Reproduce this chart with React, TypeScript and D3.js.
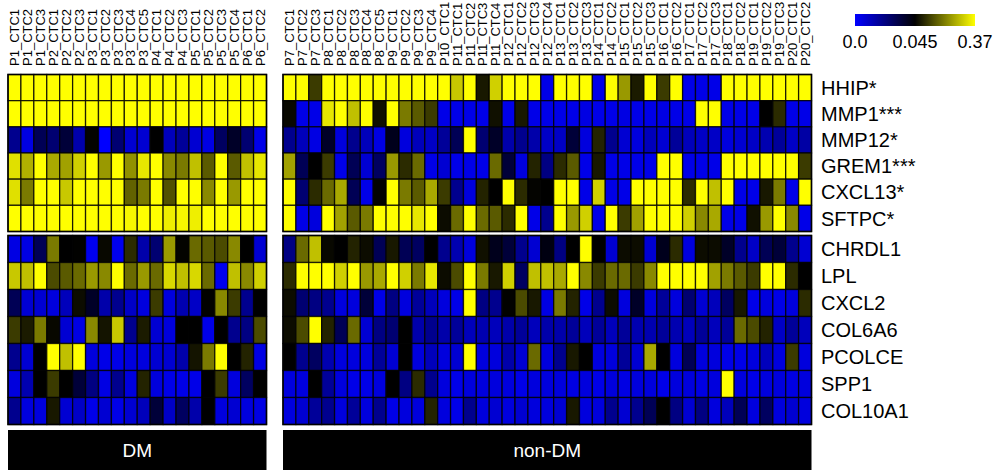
import * as d3 from 'd3'

const dmSamples = ['P1_CTC1','P1_CTC2','P1_CTC3','P2_CTC1','P2_CTC2','P2_CTC3','P3_CTC1','P3_CTC2','P3_CTC3','P3_CTC4','P3_CTC5','P4_CTC1','P4_CTC2','P4_CTC3','P5_CTC1','P5_CTC2','P5_CTC3','P5_CTC4','P6_CTC1','P6_CTC2']
const nonDmSamples = ['P7_CTC1','P7_CTC2','P7_CTC3','P8_CTC1','P8_CTC2','P8_CTC3','P8_CTC4','P8_CTC5','P9_CTC1','P9_CTC2','P9_CTC3','P9_CTC4','P10_CTC1','P11_CTC1','P11_CTC2','P11_CTC3','P11_CTC4','P12_CTC1','P12_CTC2','P12_CTC3','P12_CTC4','P13_CTC1','P13_CTC2','P13_CTC3','P14_CTC1','P14_CTC2','P15_CTC1','P15_CTC2','P15_CTC3','P16_CTC1','P16_CTC2','P17_CTC1','P17_CTC2','P17_CTC3','P18_CTC1','P18_CTC2','P19_CTC1','P19_CTC2','P19_CTC3','P20_CTC1','P20_CTC2']
const topGenes = ['HHIP*','MMP1***','MMP12*','GREM1***','CXCL13*','SFTPC*']
const bottomGenes = ['CHRDL1','LPL','CXCL2','COL6A6','PCOLCE','SPP1','COL10A1']
const groupNames = ['DM','non-DM']
const legendTicks = [0, 0.045, 0.37]
const legendLabels = ['0.0','0.045','0.37']

// rows follow topGenes then bottomGenes
const dmValues = [
  [0.37,0.37,0.37,0.37,0.37,0.37,0.37,0.37,0.37,0.37,0.37,0.37,0.37,0.37,0.37,0.37,0.37,0.37,0.37,0.37],
  [0.37,0.37,0.37,0.37,0.37,0.37,0.37,0.37,0.37,0.37,0.37,0.37,0.37,0.37,0.37,0.37,0.37,0.37,0.37,0.37],
  [0.02,0.005,0.03,0.025,0.035,0.015,0.05,0.0,0.025,0.008,0.008,0.045,0.012,0.018,0.008,0.005,0.028,0.038,0.025,0.004],
  [0.33,0.27,0.37,0.26,0.25,0.31,0.37,0.24,0.37,0.23,0.34,0.37,0.22,0.2,0.29,0.16,0.37,0.16,0.29,0.34],
  [0.33,0.2,0.37,0.37,0.3,0.37,0.37,0.37,0.37,0.17,0.2,0.37,0.15,0.37,0.37,0.22,0.37,0.24,0.37,0.37],
  [0.37,0.37,0.37,0.37,0.37,0.37,0.37,0.37,0.37,0.36,0.37,0.37,0.35,0.36,0.35,0.37,0.37,0.37,0.37,0.37],
  [0.005,0.005,0.03,0.2,0.045,0.048,0.003,0.055,0.003,0.1,0.015,0.025,0.24,0.05,0.18,0.16,0.14,0.22,0.045,0.008],
  [0.3,0.29,0.37,0.14,0.16,0.18,0.24,0.22,0.37,0.18,0.24,0.18,0.32,0.29,0.32,0.18,0.003,0.29,0.22,0.31],
  [0.03,0.008,0.008,0.006,0.012,0.06,0.038,0.015,0.02,0.01,0.006,0.12,0.006,0.014,0.01,0.048,0.22,0.12,0.02,0.045],
  [0.12,0.08,0.2,0.055,0.008,0.005,0.22,0.07,0.3,0.02,0.08,0.008,0.006,0.045,0.045,0.004,0.045,0.02,0.022,0.14],
  [0.02,0.008,0.045,0.37,0.29,0.37,0.006,0.004,0.004,0.006,0.006,0.008,0.008,0.015,0.07,0.2,0.37,0.045,0.09,0.005],
  [0.006,0.014,0.045,0.12,0.045,0.035,0.022,0.005,0.02,0.006,0.09,0.006,0.004,0.004,0.004,0.045,0.12,0.006,0.028,0.045],
  [0.02,0.006,0.006,0.075,0.008,0.01,0.004,0.008,0.004,0.008,0.012,0.035,0.01,0.028,0.015,0.045,0.006,0.008,0.006,0.005],
]

const nonDmValues = [
  [0.37,0.37,0.12,0.37,0.37,0.37,0.37,0.37,0.37,0.37,0.37,0.37,0.37,0.3,0.37,0.075,0.31,0.37,0.37,0.37,0.004,0.37,0.37,0.37,0.004,0.37,0.24,0.08,0.37,0.12,0.37,0.004,0.004,0.004,0.37,0.37,0.37,0.37,0.37,0.37,0.37],
  [0.055,0.004,0.004,0.34,0.37,0.29,0.37,0.065,0.37,0.2,0.16,0.12,0.004,0.004,0.004,0.004,0.065,0.004,0.075,0.004,0.004,0.004,0.004,0.005,0.004,0.004,0.005,0.004,0.004,0.005,0.004,0.004,0.37,0.37,0.004,0.004,0.004,0.045,0.1,0.004,0.004],
  [0.02,0.012,0.005,0.038,0.006,0.02,0.012,0.005,0.04,0.006,0.012,0.01,0.018,0.03,0.37,0.025,0.038,0.015,0.02,0.015,0.01,0.01,0.035,0.006,0.09,0.02,0.008,0.006,0.012,0.008,0.018,0.012,0.01,0.01,0.006,0.008,0.01,0.014,0.018,0.01,0.016],
  [0.25,0.03,0.045,0.12,0.004,0.03,0.008,0.028,0.24,0.1,0.18,0.004,0.008,0.004,0.004,0.004,0.18,0.035,0.006,0.09,0.022,0.1,0.16,0.004,0.075,0.004,0.004,0.004,0.004,0.37,0.37,0.004,0.004,0.004,0.37,0.37,0.37,0.37,0.37,0.37,0.12],
  [0.37,0.025,0.1,0.18,0.26,0.03,0.004,0.05,0.37,0.2,0.16,0.26,0.12,0.02,0.006,0.09,0.045,0.37,0.1,0.05,0.045,0.37,0.37,0.004,0.31,0.004,0.004,0.37,0.37,0.37,0.37,0.1,0.37,0.29,0.37,0.004,0.004,0.075,0.2,0.004,0.37],
  [0.37,0.004,0.006,0.37,0.25,0.16,0.2,0.37,0.37,0.37,0.34,0.37,0.06,0.18,0.37,0.18,0.16,0.1,0.37,0.004,0.02,0.37,0.24,0.31,0.004,0.37,0.12,0.25,0.37,0.37,0.37,0.31,0.22,0.26,0.004,0.004,0.065,0.24,0.37,0.22,0.004],
  [0.022,0.18,0.29,0.055,0.045,0.09,0.06,0.03,0.075,0.03,0.028,0.045,0.02,0.014,0.006,0.065,0.04,0.035,0.02,0.008,0.042,0.022,0.045,0.37,0.045,0.008,0.06,0.06,0.008,0.04,0.1,0.006,0.06,0.06,0.038,0.02,0.01,0.03,0.035,0.02,0.008],
  [0.1,0.37,0.37,0.37,0.31,0.37,0.24,0.26,0.37,0.31,0.2,0.34,0.06,0.14,0.37,0.2,0.075,0.31,0.028,0.29,0.29,0.26,0.37,0.22,0.12,0.18,0.18,0.12,0.22,0.37,0.37,0.37,0.37,0.25,0.2,0.16,0.12,0.37,0.37,0.1,0.045],
  [0.06,0.025,0.022,0.02,0.006,0.006,0.035,0.004,0.022,0.006,0.018,0.012,0.006,0.004,0.37,0.022,0.02,0.048,0.14,0.075,0.005,0.2,0.09,0.004,0.02,0.06,0.006,0.038,0.006,0.018,0.006,0.025,0.008,0.012,0.028,0.075,0.004,0.006,0.004,0.006,0.1],
  [0.06,0.14,0.37,0.09,0.03,0.18,0.008,0.022,0.025,0.045,0.015,0.02,0.015,0.018,0.012,0.014,0.012,0.015,0.018,0.012,0.015,0.015,0.018,0.012,0.018,0.012,0.018,0.014,0.014,0.018,0.014,0.012,0.018,0.012,0.018,0.18,0.14,0.09,0.01,0.018,0.012],
  [0.045,0.02,0.028,0.014,0.006,0.006,0.006,0.018,0.008,0.045,0.006,0.012,0.006,0.008,0.37,0.006,0.006,0.015,0.008,0.18,0.006,0.02,0.075,0.045,0.006,0.006,0.018,0.008,0.26,0.045,0.006,0.03,0.006,0.006,0.004,0.004,0.006,0.012,0.006,0.12,0.006],
  [0.006,0.006,0.045,0.018,0.006,0.004,0.004,0.006,0.045,0.022,0.1,0.02,0.006,0.004,0.006,0.006,0.006,0.006,0.004,0.006,0.006,0.006,0.005,0.006,0.004,0.006,0.005,0.006,0.006,0.004,0.006,0.006,0.005,0.006,0.37,0.006,0.004,0.006,0.006,0.005,0.006],
  [0.006,0.008,0.018,0.02,0.006,0.018,0.006,0.02,0.004,0.006,0.006,0.09,0.006,0.004,0.02,0.006,0.008,0.006,0.008,0.006,0.006,0.008,0.075,0.006,0.006,0.02,0.008,0.02,0.03,0.045,0.022,0.008,0.022,0.006,0.012,0.03,0.006,0.028,0.006,0.008,0.006],
]

const FONT = 'Liberation Sans, Arial, sans-serif'
const W = 995, H = 470

export default function App() {
  const color = d3.scaleLinear<string>().domain(legendTicks).range(['#0000ff', '#000000', '#ffff00']).clamp(true)

  const blocks = [
    { name: groupNames[0], samples: dmSamples, values: dmValues, x: d3.scaleBand().domain(dmSamples).range([8, 266.5]) },
    { name: groupNames[1], samples: nonDmSamples, values: nonDmValues, x: d3.scaleBand().domain(nonDmSamples).range([283, 811.5]) },
  ]
  const panels = [
    { genes: topGenes, offset: 0, y: d3.scaleBand().domain(topGenes).range([74.5, 231.5]) },
    { genes: bottomGenes, offset: topGenes.length, y: d3.scaleBand().domain(bottomGenes).range([235.5, 424.5]) },
  ]

  const legendX = d3.scaleLinear().domain(legendTicks).range([855, 915, 975])
  const stops = d3.range(0, 1.0001, 0.05).map(t => ({ t, c: color(legendX.invert(855 + t * 120)) }))

  return (
    <div style={{ position: 'absolute', left: 0, top: 0 }}>
      <svg width={W} height={H} style={{ display: 'block', background: '#fff', fontFamily: FONT }}>
        <defs>
          <linearGradient id="lg" x1="0" x2="1" y1="0" y2="0">
            {stops.map(s => <stop key={s.t} offset={s.t} stopColor={s.c} />)}
          </linearGradient>
        </defs>

        {blocks.map(b => (
          <g key={b.name}>
            {b.samples.map(s => (
              <text key={s} transform={`translate(${b.x(s)! + b.x.bandwidth() / 2},66) rotate(-90)`}
                dy="0.36em" textAnchor="start" fontSize={13} fill="#000">{s}</text>
            ))}
            {panels.map(p => (
              <g key={p.offset}>
                {p.genes.map((g, gi) => b.samples.map((s, si) => (
                  <rect key={g + s} x={b.x(s)} y={p.y(g)} width={b.x.bandwidth()} height={p.y.bandwidth()}
                    fill={color(b.values[p.offset + gi][si])} stroke="#000" strokeOpacity={0.8} strokeWidth={1.3} />
                )))}
                <rect x={b.x.range()[0]} y={p.y.range()[0]} width={b.x.range()[1] - b.x.range()[0]}
                  height={p.y.range()[1] - p.y.range()[0]} fill="none" stroke="#000" strokeWidth={1.5} />
              </g>
            ))}
            <rect x={b.x.range()[0]} y={430} width={b.x.range()[1] - b.x.range()[0]} height={H - 430} fill="#000" />
            <text x={(b.x.range()[0] + b.x.range()[1]) / 2} y={450} dy="0.35em" textAnchor="middle" fontSize={19} fill="#fff">{b.name}</text>
          </g>
        ))}

        {panels.map(p => p.genes.map(g => (
          <text key={g} x={821} y={p.y(g)! + p.y.bandwidth() / 2} dy="0.36em" fontSize={20} fill="#000">{g}</text>
        )))}

        <rect x={855} y={14} width={120} height={12} fill="url(#lg)" />
        {legendTicks.map((t, i) => (
          <text key={t} x={legendX(t)} y={48} textAnchor="middle" fontSize={18} fill="#000">{legendLabels[i]}</text>
        ))}
      </svg>
    </div>
  )
}
